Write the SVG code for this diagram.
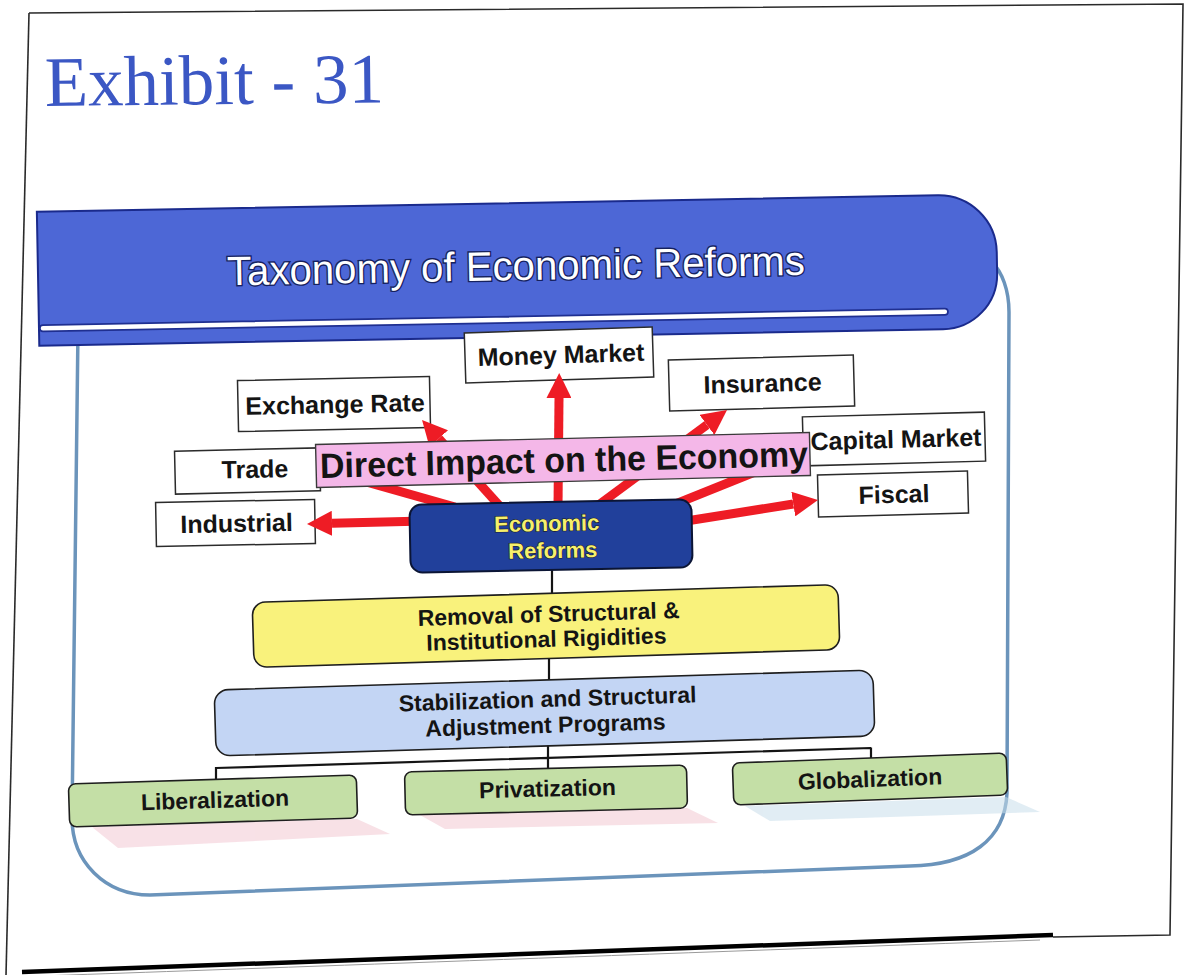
<svg xmlns="http://www.w3.org/2000/svg" width="1188" height="975" viewBox="0 0 1188 975">
  <defs>
    <style>
      .lbox { fill: #ffffff; stroke: #2b2b2b; stroke-width: 1.5; }
      .lbl { font-family: "Liberation Sans", Arial, sans-serif; font-weight: bold; fill: #141414; text-anchor: middle; font-size: 25px; }
      .mid { font-size: 23px; }
      .er { font-family: "Liberation Sans", Arial, sans-serif; font-weight: bold; font-size: 22px; fill: #f6f06c; stroke: #1a1a2a; stroke-width: 1.2; paint-order: stroke fill; text-anchor: middle; }
      .green { fill: #c4dfa6; stroke: #1e1e1e; stroke-width: 1.6; }
      .red { stroke: #ee1c25; stroke-width: 9; fill: none; }
      .tie { stroke: #141414; stroke-width: 2.2; fill: none; }
      .refl { opacity: 0.55; }
    </style>
    <marker id="arrowHead" viewBox="0 0 25 25" refX="0" refY="12.5" markerWidth="25" markerHeight="25" markerUnits="userSpaceOnUse" orient="auto">
      <path d="M0,0 L25,12.5 L0,25 Z" fill="#ee1c25"/>
    </marker>
  </defs>

  <rect width="1188" height="975" fill="#ffffff"/>

  <!-- page outline and rule -->
  <g id="page">
    <path d="M29,13 L1183,4 L1170,935 L1053,937" fill="none" stroke="#2a2a2a" stroke-width="1.6"/>
    <path d="M29,13 L6,975" fill="none" stroke="#2a2a2a" stroke-width="1.6"/>
    <path d="M22,972 Q260,964 1053,935" fill="none" stroke="#000000" stroke-width="4.5"/>
    <path d="M40,976 Q270,968 1040,940" fill="none" stroke="#9a9a9a" stroke-width="1"/>
  </g>

  <text id="title" x="45" y="106" font-family="Liberation Serif, Times New Roman, serif" font-size="71" fill="#3b57c4" transform="rotate(-0.6 45 106)">Exhibit - 31</text>

  <!-- rounded content frame -->
  <path id="frame" d="M992,262 C1002,272 1009,290 1009,312 L1007,793 C1005,840 970,865 910,866 L150,895 C105,895 72,862 72,818 L78,330" fill="none" stroke="#6b94bb" stroke-width="3.5"/>

  <!-- header band -->
  <g id="banner" transform="rotate(-1.05 518 270)">
    <path d="M38,203 H939 A58,58 0 0 1 997,261 V282 A55,55 0 0 1 942,337 H38 Z" fill="#4d67d6" stroke="#1a2a8c" stroke-width="2"/>
    <line x1="42" y1="319.5" x2="944" y2="319.5" stroke="#1f2f90" stroke-width="8" stroke-linecap="round"/>
    <line x1="42" y1="319.5" x2="944" y2="319.5" stroke="#ffffff" stroke-width="4.5" stroke-linecap="round"/>
    <text x="516" y="280" font-family="Liberation Sans, Arial, sans-serif" font-size="41" fill="#ffffff" stroke="#16215e" stroke-width="2.8" paint-order="stroke fill" text-anchor="middle" textLength="578" lengthAdjust="spacingAndGlyphs">Taxonomy of Economic Reforms</text>
  </g>

  <!-- soft reflections under the bottom row -->
  <g id="reflections" class="refl">
    <polygon points="92,827 357,819 390,834 118,848" fill="#f3c9d3"/>
    <polygon points="420,815 687,808 718,823 445,829" fill="#f3c9d3"/>
    <polygon points="745,806 1006,797 1040,812 770,821" fill="#c9deeb"/>
  </g>

  <!-- impact areas -->
  <g id="node-money-market" transform="translate(559 355) rotate(-1.8)">
    <rect class="lbox" x="-94" y="-25" width="188" height="50"/>
    <text class="lbl" x="2" y="8.5">Money Market</text>
  </g>
  <g id="node-exchange-rate" transform="translate(334 404) rotate(-1.2)">
    <rect class="lbox" x="-96" y="-25.5" width="192" height="51"/>
    <text class="lbl" x="1" y="9">Exchange Rate</text>
  </g>
  <g id="node-insurance" transform="translate(761.5 383) rotate(-1.55)">
    <rect class="lbox" x="-92.5" y="-25.5" width="185" height="51"/>
    <text class="lbl" x="1" y="9">Insurance</text>
  </g>
  <g id="node-capital-market" transform="translate(894 439) rotate(-1.5)">
    <rect class="lbox" x="-91" y="-24.5" width="182" height="49"/>
    <text class="lbl" x="2" y="9">Capital Market</text>
  </g>
  <g id="node-trade" transform="translate(247.5 471) rotate(-1.3)">
    <rect class="lbox" x="-72.5" y="-21.5" width="145" height="43"/>
    <text class="lbl" x="7.5" y="7">Trade</text>
  </g>
  <g id="node-industrial" transform="translate(235.5 523) rotate(-1.1)">
    <rect class="lbox" x="-79.5" y="-22" width="159" height="44"/>
    <text class="lbl" x="1" y="9">Industrial</text>
  </g>
  <g id="node-fiscal" transform="translate(893 494) rotate(-1.5)">
    <rect class="lbox" x="-75" y="-21" width="150" height="42"/>
    <text class="lbl" x="1" y="9">Fiscal</text>
  </g>

  <!-- connectors -->
  <g id="connectors">
    <line class="red" x1="425" y1="521" x2="332" y2="523.3" marker-end="url(#arrowHead)"/>
    <line class="red" x1="455" y1="507" x2="344.1" y2="475.6" marker-end="url(#arrowHead)"/>
    <line class="red" x1="502.4" y1="509" x2="438.8" y2="438.6" marker-end="url(#arrowHead)"/>
    <line class="red" x1="558" y1="508" x2="559" y2="398" marker-end="url(#arrowHead)"/>
    <line class="red" x1="593" y1="509" x2="706.9" y2="424.9" marker-end="url(#arrowHead)"/>
    <line class="red" x1="663" y1="509" x2="781.8" y2="461.3" marker-end="url(#arrowHead)"/>
    <line class="red" x1="680" y1="522" x2="793.3" y2="504" marker-end="url(#arrowHead)"/>
    <path class="tie" d="M552,566 V594 M549,658 V682 M548,745 V769 M216,768 L871,748 M216,767 V781 M871,747.5 V760"/>
  </g>

  <g id="node-direct-impact" transform="translate(563 460) rotate(-1.4)">
    <rect x="-247" y="-21.5" width="494" height="43" fill="#f4b7e8" stroke="#3a3a3a" stroke-width="1.4"/>
    <text class="lbl" x="1" y="12" style="font-size:35px" textLength="488" lengthAdjust="spacingAndGlyphs">Direct Impact on the Economy</text>
  </g>

  <g id="node-economic-reforms" transform="translate(551 536) rotate(-1.1)">
    <rect x="-141" y="-34" width="282" height="68" rx="12" fill="#21409b" stroke="#0b1535" stroke-width="2"/>
    <text class="er" x="-4" y="-5">Economic</text>
    <text class="er" x="1.5" y="22">Reforms</text>
  </g>

  <g id="node-removal" transform="translate(546 626) rotate(-1.75)">
    <rect x="-293" y="-32.5" width="586" height="65" rx="13" fill="#f9f27c" stroke="#1e1e1e" stroke-width="1.6"/>
    <text class="lbl mid" x="3" y="-4">Removal of Structural &amp;</text>
    <text class="lbl mid" x="0" y="21">Institutional Rigidities</text>
  </g>

  <g id="node-stabilization" transform="translate(544.5 713) rotate(-1.74)">
    <rect x="-329.5" y="-33" width="659" height="66" rx="14" fill="#c3d5f4" stroke="#1e1e1e" stroke-width="1.6"/>
    <text class="lbl mid" x="3.5" y="-6">Stabilization and Structural</text>
    <text class="lbl mid" x="0.5" y="20">Adjustment Programs</text>
  </g>

  <g id="node-liberalization" transform="translate(213 801) rotate(-1.8)">
    <rect class="green" x="-144" y="-21.5" width="288" height="43" rx="7"/>
    <text class="lbl mid" x="2" y="7">Liberalization</text>
  </g>
  <g id="node-privatization" transform="translate(546 790) rotate(-1.4)">
    <rect class="green" x="-141" y="-21.5" width="282" height="43" rx="7"/>
    <text class="lbl mid" x="1.5" y="6.5">Privatization</text>
  </g>
  <g id="node-globalization" transform="translate(870 779) rotate(-2.1)">
    <rect class="green" x="-137" y="-21" width="274" height="42" rx="7"/>
    <text class="lbl mid" x="0" y="8">Globalization</text>
  </g>
</svg>
